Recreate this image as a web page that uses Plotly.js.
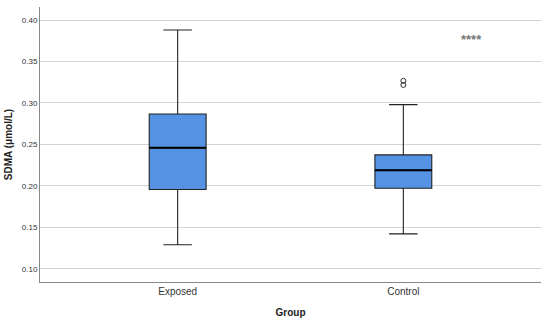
<!DOCTYPE html>
<html>
<head>
<meta charset="utf-8">
<script src="https://cdn.plot.ly/plotly-3.0.1.min.js"></script>
<style>html,body{margin:0;padding:0;background:#fff;}</style>
</head>
<body>
<div id="chart" style="width:550px;height:322px;"></div>
<script>
const groups = ["Exposed", "Control"];
const lowerWhisker = [0.129, 0.142];
const q1Values = [0.1955, 0.197];
const medianValues = [0.2458, 0.2188];
const q3Values = [0.2867, 0.2373];
const upperWhisker = [0.388, 0.298];
const outlierGroup = ["Control", "Control"];
const outlierValues = [0.3217, 0.3266];
const sigLabel = "****";
const yTicks = [0.10, 0.15, 0.20, 0.25, 0.30, 0.35, 0.40];

const traces = [
  {
    type: "box",
    x: groups,
    q1: q1Values,
    median: medianValues,
    q3: q3Values,
    lowerfence: lowerWhisker,
    upperfence: upperWhisker,
    fillcolor: "#5592E4",
    line: {color: "#222222", width: 1.1},
    width: 0.252,
    whiskerwidth: 0.5,
    boxpoints: false,
    hoverinfo: "skip",
    showlegend: false
  },
  {
    // thicker median line overlay
    type: "box",
    x: groups,
    q1: medianValues,
    median: medianValues,
    q3: medianValues,
    lowerfence: medianValues,
    upperfence: medianValues,
    fillcolor: "rgba(0,0,0,0)",
    line: {color: "#000000", width: 2},
    width: 0.252,
    whiskerwidth: 0,
    boxpoints: false,
    hoverinfo: "skip",
    showlegend: false
  },
  {
    type: "scatter",
    mode: "markers",
    x: outlierGroup,
    y: outlierValues,
    marker: {symbol: "circle-open", size: 5, color: "#333333", line: {width: 1}},
    hoverinfo: "skip",
    showlegend: false
  }
];

const layout = {
  width: 550,
  height: 322,
  margin: {l: 40, r: 9, t: 7, b: 40},
  paper_bgcolor: "#ffffff",
  plot_bgcolor: "#ffffff",
  boxmode: "overlay",
  font: {family: "Liberation Sans, Arial, sans-serif", color: "#333333"},
  xaxis: {
    type: "category",
    categoryorder: "array",
    categoryarray: groups,
    range: [-0.61, 1.61],
    showgrid: false,
    zeroline: false,
    showline: true,
    linecolor: "#888888",
    linewidth: 1,
    ticks: "",
    tickfont: {size: 10, color: "#333333"},
    title: {text: "<b>Group</b>", font: {size: 10, color: "#222222"}, standoff: 12}
  },
  yaxis: {
    range: [0.084, 0.4157],
    tickvals: yTicks,
    ticktext: yTicks.map(v => v.toFixed(2)),
    showgrid: true,
    gridcolor: "#d4d4d4",
    gridwidth: 1,
    zeroline: false,
    showline: true,
    linecolor: "#888888",
    linewidth: 1,
    ticks: "",
    tickfont: {size: 8, color: "#333333"},
    title: {text: "<b>SDMA (μmol/L)</b>", font: {size: 10, color: "#222222"}, standoff: 7}
  },
  annotations: [
    {
      xref: "paper", yref: "y",
      x: 0.862, y: 0.376,
      xanchor: "center",
      text: "<b>" + sigLabel + "</b>",
      showarrow: false,
      font: {size: 13, color: "#777777", family: "Liberation Sans, Arial, sans-serif"}
    }
  ]
};

Plotly.newPlot("chart", traces, layout, {displayModeBar: false, staticPlot: true});
</script>
</body>
</html>
